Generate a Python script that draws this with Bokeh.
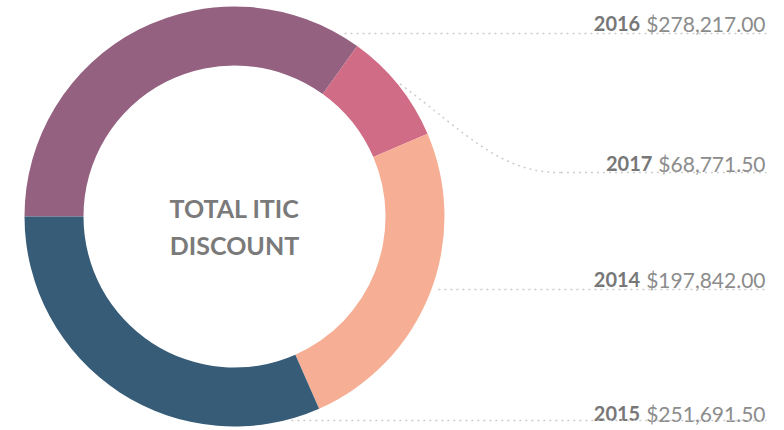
import math
from bokeh.plotting import figure
from bokeh.models import Range1d
from bokeh.core.properties import value
from bokeh.embed import file_html
from bokeh.resources import INLINE

# ---- data ----
years = ["2016", "2017", "2014", "2015"]
amounts = [278217.00, 68771.50, 197842.00, 251691.50]
colors = ["#946280", "#d06c86", "#f6af95", "#365c78"]
center_lines = ["TOTAL ITIC", "DISCOUNT"]

# ---- layout (page pixel coordinates) ----
W, H = 784, 430
CX, CY = 234, 216          # donut centre on page
R_OUT, R_IN = 210, 151
LABEL_RIGHT = 765
label_base_y = [23, 163, 279, 413]
leader_y = [33, 172, 289, 420]
curved = [False, True, False, False]
VAL_SIZE = 21
YEAR_SIZE = 20


def dx(px):
    return px


def dy(py):
    return H - py


def text_width(s, size):
    # approximate Lato advance widths (em)
    w = 0.0
    for ch in s:
        if ch.isdigit() or ch == "$":
            w += 0.58
        elif ch in ",.":
            w += 0.23
        else:
            w += 0.5
    return w * size


p = figure(width=W, height=H, output_backend="svg", toolbar_location=None,
           x_range=Range1d(0, W), y_range=Range1d(0, H),
           x_axis_location=None, y_axis_location=None, min_border=0)
p.outline_line_color = None
p.grid.visible = False
p.background_fill_color = "white"
p.border_fill_color = "white"

# ---- donut ----
total = sum(amounts)
starts, ends = [], []
acc = 0.0
for a in amounts:
    starts.append(math.pi - acc / total * 2 * math.pi)
    acc += a
    ends.append(math.pi - acc / total * 2 * math.pi)

p.annular_wedge(x=dx(CX), y=dy(CY), inner_radius=R_IN, outer_radius=R_OUT,
                start_angle=starts, end_angle=ends, direction="clock",
                fill_color=colors, line_color=None)

# ---- centre text ----
p.text(x=[dx(CX), dx(CX)], y=[dy(207), dy(244)], text=center_lines,
       text_font=value("Lato"), text_font_style="bold", text_font_size="25px",
       text_color="#7a7a7a", text_align="center", text_baseline="alphabetic")

# ---- labels + leader lines ----
LINE_COLOR = "#cccccc"
for i, (yr, amt) in enumerate(zip(years, amounts)):
    val = f"${amt:,.2f}"
    by = label_base_y[i]
    p.text(x=[dx(LABEL_RIGHT)], y=[dy(by)], text=[val],
           text_font=value("Lato"), text_font_size=f"{VAL_SIZE}px",
           text_color="#8c8c8c", text_align="right", text_baseline="alphabetic")
    vw = text_width(val, VAL_SIZE)
    p.text(x=[dx(LABEL_RIGHT - vw - 6)], y=[dy(by)], text=[yr],
           text_font=value("Lato"), text_font_style="bold", text_font_size=f"{YEAR_SIZE}px",
           text_color="#777777", text_align="right", text_baseline="alphabetic")

    ly = leader_y[i]
    if curved[i]:
        mid = (starts[i] + ends[i]) / 2
        sx = CX + (R_OUT + 2) * math.cos(mid)
        sy = CY - (R_OUT + 2) * math.sin(mid)
        ex = sx + 161
        p.bezier(x0=dx(sx), y0=dy(sy), x1=dx(ex), y1=dy(ly),
                 cx0=dx(sx + 66), cy0=dy(sy + 49), cx1=dx(sx + 101), cy1=dy(ly + 1),
                 line_color=LINE_COLOR, line_width=1.5, line_dash="2 4")
        p.segment(x0=dx(ex), y0=dy(ly), x1=dx(LABEL_RIGHT + 1), y1=dy(ly),
                  line_color=LINE_COLOR, line_width=1.5, line_dash="2 4")
    else:
        ddy = ly - CY
        sx = CX + math.sqrt(max(R_OUT ** 2 - ddy ** 2, 0)) + 7
        p.segment(x0=dx(sx), y0=dy(ly), x1=dx(LABEL_RIGHT + 1), y1=dy(ly),
                  line_color=LINE_COLOR, line_width=1.5, line_dash="2 4")

open("out.html", "w").write(file_html(p, INLINE))
